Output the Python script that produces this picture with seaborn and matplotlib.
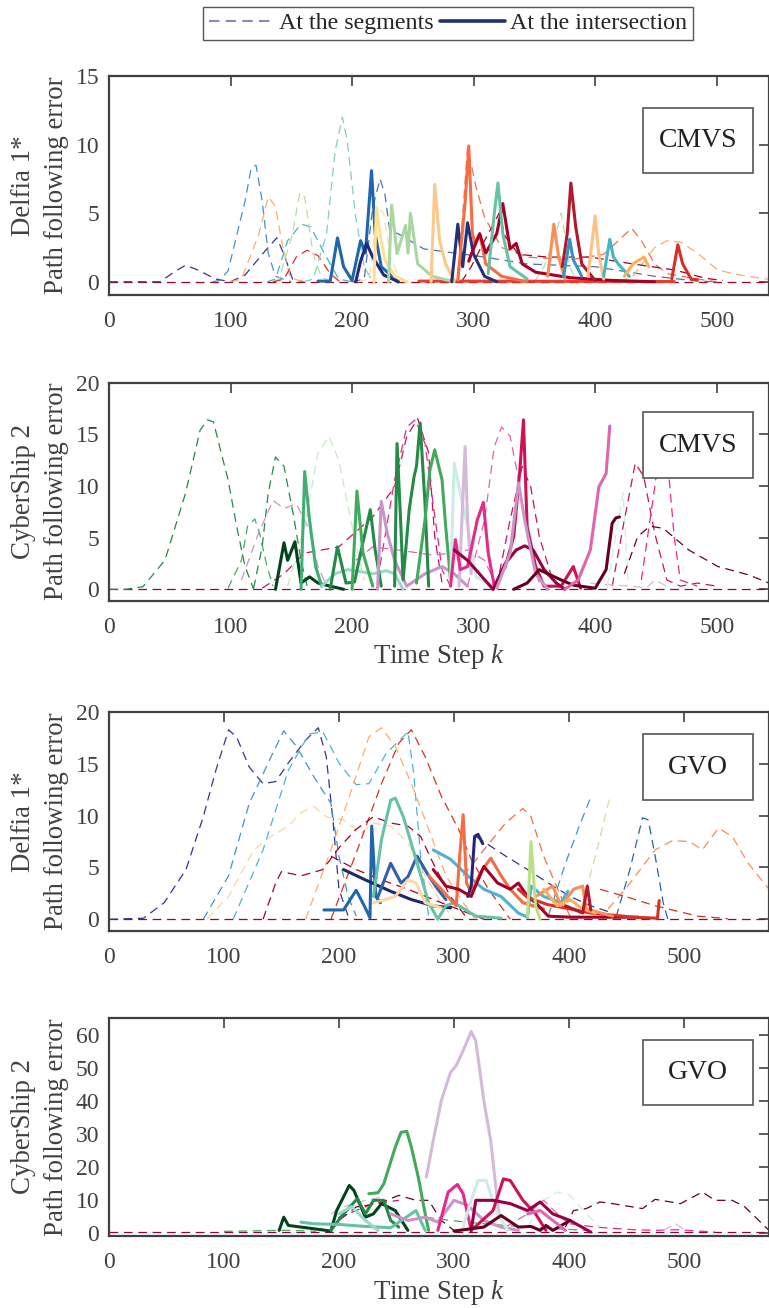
import numpy as np
import pandas as pd
import matplotlib.pyplot as plt
import seaborn as sns
from matplotlib.lines import Line2D
from matplotlib.patches import Rectangle

# ---------------- Delfia 1* / CMVS ----------------
delfia_cmvs_seg_k = [
    [0, 150, 300, 450, 543],
    [0, 42, 55, 63, 72, 88, 100],
    [100, 112, 128, 138, 144, 151, 160],
    [85, 91, 98, 112, 117, 121, 126, 131, 137, 150],
    [100, 109, 123, 131, 137, 142, 149, 160],
    [130, 137, 147, 158, 166, 177, 189, 200],
    [135, 140, 151, 157, 161, 168, 175, 185],
    [135, 144, 154, 163, 172, 182, 190],
    [160, 168, 179, 186, 192, 196, 203, 210, 217],
    [200, 210, 217, 223, 227, 231, 238, 259, 309, 344, 400, 449, 484, 500],
    [205, 214, 221, 226, 231, 238, 245],
    [280, 288, 295, 302, 309, 323, 344, 379, 407, 430, 438, 449, 459, 484, 500],
    [420, 431, 449, 459, 470, 484, 501, 519, 543],
    [290, 298, 309, 321, 326, 337, 361, 396, 431, 466, 491, 505],
    [350, 358, 368, 372, 375, 379, 385],
]
delfia_cmvs_seg_err = [
    [0, 0, 0, 0, 0],
    [0, 0, 0.8, 1.2, 0.9, 0.2, 0],
    [0, 0.5, 2.2, 3.2, 2.0, 0.2, 0],
    [0, 0.1, 0.8, 5.9, 8.3, 8.5, 5.9, 2.1, 0.4, 0],
    [0, 0.2, 3.4, 6.2, 5.5, 3.0, 0.3, 0],
    [0, 0.2, 3.0, 4.2, 4.0, 2.1, 0.2, 0],
    [0, 0.2, 3.5, 6.5, 6.2, 2.0, 0.3, 0],
    [0, 0.2, 1.8, 2.3, 1.9, 0.6, 0],
    [0, 0.2, 3.5, 9.5, 12.0, 10.3, 4.7, 1.1, 0],
    [0, 0.2, 5.4, 7.5, 6.4, 3.7, 3.5, 2.4, 1.8, 1.3, 1.1, 0.4, 0.05, 0],
    [0, 0.2, 5.4, 5.0, 2.0, 0.4, 0],
    [0, 1.1, 9.8, 6.9, 4.7, 2.5, 1.8, 1.6, 2.0, 3.9, 3.0, 1.3, 0.6, 0.2, 0],
    [0, 0.4, 2.5, 3.0, 2.9, 2.1, 0.85, 0.5, 0.17],
    [0, 1.1, 3.0, 5.0, 3.3, 2.0, 1.8, 1.8, 1.3, 0.85, 0.25, 0.1],
    [0, 1.1, 3.5, 5.0, 3.5, 1.1, 0],
]
delfia_cmvs_seg_col = ['#a50026', '#313695', '#313695', '#4393c3', '#fdae61', '#41b6c4',
                       '#b5dfa0', '#d73027', '#80cdc1', '#4575b4', '#fee090', '#f46d43',
                       '#fdae61', '#a50026', '#b5dfa0']

delfia_cmvs_int_k = [
    [255, 300, 400, 465],
    [172, 182, 188, 193, 200, 207, 211, 216, 219, 224, 238],
    [203, 207, 212, 217, 226, 238],
    [218, 220, 223, 227, 235, 245],
    [230, 232.5, 237, 244, 246, 248, 254, 266, 284],
    [265, 268, 272, 277, 284],
    [282, 287, 291, 295, 300, 309, 319],
    [287, 293, 296, 299, 301, 305, 310, 323, 344],
    [296, 298, 305, 310, 319, 324, 330, 335, 340, 351, 379, 414, 449],
    [312, 317, 320, 324, 330, 344],
    [361, 366, 370, 375],
    [373, 377, 380, 384, 389, 400],
    [374, 379, 382, 389],
    [394, 400, 403, 407],
    [407, 412, 415, 419, 428],
    [424, 431, 440, 444],
    [463, 468, 472, 479, 484],
]
delfia_cmvs_int_err = [
    [0.05, 0.05, 0.03, 0.02],
    [0.05, 0.05, 3.2, 1.1, 0.1, 3.0, 2.1, 8.1, 3.5, 1.1, 0],
    [0, 1.5, 2.8, 1.8, 0.5, 0],
    [0, 5.4, 3.5, 1.6, 0.4, 0],
    [0, 5.6, 2.05, 4.1, 2.1, 5.0, 1.3, 0.4, 0],
    [0, 7.1, 3.0, 1.3, 0.1],
    [0, 4.2, 1.1, 4.3, 2.0, 0.4, 0],
    [0.1, 5.8, 9.9, 3.5, 2.8, 3.5, 1.3, 0.4, 0],
    [1.5, 2.0, 3.5, 2.1, 3.5, 5.7, 2.4, 2.8, 1.3, 0.7, 0.3, 0.1, 0],
    [0.6, 5.0, 7.2, 3.5, 1.1, 0.2],
    [0.4, 4.2, 1.8, 0.2],
    [1.1, 3.5, 7.2, 4.0, 1.3, 0.1],
    [0.4, 3.1, 1.6, 0.4],
    [0.4, 4.8, 2.0, 0.2],
    [0.4, 3.1, 1.8, 1.3, 0.4],
    [0.4, 1.3, 1.8, 1.1],
    [0.2, 2.7, 1.3, 0.2, 0.15],
]
delfia_cmvs_int_col = ['#ef3b2c', '#2166ac', '#1f2a80', '#fee090', '#a8d8a0', '#fdc98a',
                       '#23307a', '#f46d43', '#a50026', '#66c2a5', '#fc8d59', '#b2182b',
                       '#3a8fc5', '#fdc086', '#41b6c4', '#fdae61', '#d73027']

# ---------------- CyberShip 2 / CMVS ----------------
cyber_cmvs_seg_k = [
    [0, 150, 300, 450, 543],
    [0, 14, 28, 46, 63, 75, 81, 86, 91, 98, 105, 112, 119],
    [98, 109, 114, 120, 124, 130, 135],
    [119, 126, 131, 137, 144, 152, 158, 163],
    [109, 123, 135, 144, 154, 165, 172, 179],
    [147, 161, 172, 181, 189, 200, 210],
    [126, 144, 161, 189, 217, 235, 245, 254, 263, 268, 274],
    [221, 235, 245, 252, 260, 267, 274, 281],
    [295, 309, 317, 323, 330, 337, 344, 354],
    [319, 330, 340, 347, 354, 365, 372],
    [414, 424, 433, 440, 449, 459, 470, 484, 500],
    [438, 449, 456, 459, 465, 470, 484],
    [424, 435, 445, 456, 477, 501, 526, 543],
    [396, 414, 431, 442, 449, 459],
    [410, 419, 423, 427],
    [203, 217, 238, 267, 281, 295, 309, 319],
]
cyber_cmvs_seg_err = [
    [0, 0, 0, 0, 0],
    [0, 0, 0.25, 2.8, 9.3, 15.4, 16.4, 16.2, 13.8, 10.6, 6.1, 2.2, 0],
    [0.1, 2.8, 6.1, 6.8, 5.4, 2.2, 0.3],
    [0.1, 4.1, 9.3, 12.8, 11.9, 7.0, 2.8, 0.3],
    [0.9, 5.4, 8.6, 7.8, 8.3, 5.7, 2.2, 0.3],
    [0.3, 6.1, 13.2, 14.8, 12.5, 6.1, 0.9],
    [0.1, 1.5, 3.5, 4.1, 7.0, 9.9, 14.8, 16.5, 13.2, 5.1, 0.6],
    [0.9, 10.6, 15.7, 16.4, 14.1, 8.0, 1.9, 0.3],
    [0.3, 6.7, 13.8, 15.7, 14.8, 10.6, 5.1, 0.6],
    [0.3, 6.7, 11.9, 9.9, 5.1, 0.9, 0.3],
    [0.3, 6.7, 12.2, 10.9, 5.4, 0.9, 0.3, 0.6, 0.3],
    [0.9, 9.9, 16.1, 13.2, 5.1, 0.9, 0.3],
    [1.5, 5.1, 6.1, 5.9, 3.8, 2.2, 1.4, 0.6],
    [0.6, 0.4, 0.3, 0.1, 0.9, 0.3],
    [0.3, 6.7, 9.3, 0.9],
    [2.8, 4.1, 3.8, 3.3, 3.5, 3.8, 2.8, 0.3],
]
cyber_cmvs_seg_col = ['#980043', '#238b45', '#41ab5d', '#238b45', '#c994c7', '#c7e9c0',
                      '#ce1256', '#e7298a', '#df65b0', '#ce1256', '#ce1256', '#e7298a',
                      '#67001f', '#d4b9da', '#ccece6', '#df65b0']

cyber_cmvs_int_k = [
    [137, 144, 147, 153, 158, 165, 172, 182, 193],
    [158, 161, 165, 170, 175],
    [175, 186, 196, 207, 217, 228, 235, 242],
    [182, 188, 195, 202, 207, 215, 219, 224],
    [200, 204, 209, 217],
    [221, 224, 229, 235, 245, 260, 274, 284, 295],
    [235, 237, 240, 242, 247, 251, 253, 256, 260, 263],
    [253, 260, 264, 268, 274, 277, 281],
    [281, 284, 289, 295, 302, 316],
    [288, 293, 295, 298],
    [281, 285, 289, 295, 303, 308, 312, 317],
    [316, 326, 333, 338, 341, 344, 351, 358, 372, 382, 388],
    [284, 295, 307, 316, 326, 335, 342, 349, 358, 368, 375],
    [319, 330, 337, 342, 351, 361],
    [333, 344, 354, 361, 372, 382, 400, 409, 414, 417, 420],
    [375, 386, 396, 403, 409, 412],
]
cyber_cmvs_int_err = [
    [0, 4.5, 2.8, 4.6, 0.6, 1.2, 0.6, 0.3, 0],
    [0, 11.4, 6.7, 2.2, 0.3],
    [0.3, 1.5, 1.9, 1.7, 1.5, 1.8, 1.5, 0],
    [0, 4.1, 0.6, 0.7, 3.5, 7.7, 3.8, 0.3],
    [0, 9.5, 3.5, 0.3],
    [0, 8.5, 5.4, 2.8, 0.3, 1.5, 2.2, 1.5, 0.3],
    [0.3, 14.1, 6.5, 0.9, 7.7, 10.9, 11.9, 16.1, 8.3, 0.3],
    [0.6, 6.7, 11.5, 13.5, 10.6, 6.1, 0.9],
    [0.6, 12.2, 9.3, 6.1, 1.2, 0.3],
    [0.3, 13.8, 6.7, 1.5],
    [0.3, 4.8, 1.9, 2.2, 6.7, 8.4, 3.5, 0.3],
    [0, 2.2, 5.1, 11.5, 16.4, 6.1, 2.2, 0.3, 0.3, 2.2, 0.1],
    [3.8, 2.8, 1.2, 0, 2.5, 3.8, 4.2, 3.8, 1.9, 0.6, 0],
    [0.1, 3.5, 10.3, 6.7, 1.5, 0],
    [0, 0.6, 1.9, 1.5, 0.9, 0.4, 0.1, 1.9, 6.4, 6.9, 7.0],
    [0, 0.9, 3.8, 9.9, 11.2, 15.8],
]
cyber_cmvs_int_col = ['#00441b', '#41ae76', '#99d8c9', '#238b45', '#41ab5d', '#c994c7',
                      '#238b45', '#41ab5d', '#ccece6', '#d4b9da', '#e7298a', '#ce1256',
                      '#980043', '#c994c7', '#67001f', '#df65b0']

# ---------------- Delfia 1* / GVO ----------------
delfia_gvo_seg_k = [
    [0, 200, 400, 574],
    [0, 30, 48, 67, 82, 93, 104, 111, 122, 134, 145, 156, 171, 182, 189, 195, 200, 208],
    [82, 104, 122, 141, 152, 163, 178, 193, 200, 208, 215],
    [108, 134, 156, 174, 186, 200, 215, 226, 241, 260, 265, 271, 278],
    [85, 104, 126, 141, 156, 167, 178, 189, 204, 219, 230, 245, 260, 275, 289, 300],
    [171, 193, 211, 226, 237, 249, 263, 278, 293, 308, 319],
    [193, 215, 237, 252, 263, 275, 289, 304, 315, 330, 349],
    [134, 145, 150, 167, 186, 200, 215, 230, 245, 260, 271, 282, 297, 312],
    [193, 215, 237, 260, 289, 326],
    [308, 326, 345, 360, 367, 378, 393, 401],
    [382, 397, 408, 419],
    [408, 423, 436],
    [441, 453, 464, 469, 475, 482, 486],
    [434, 449, 475, 490, 505, 516, 530, 542, 556, 574],
    [427, 449, 475, 512, 538],
    [319, 345, 364, 382, 401, 419, 438],
]
delfia_gvo_seg_err = [
    [0, 0, 0, 0],
    [0, 0.1, 1.6, 4.8, 9.9, 14.4, 18.3, 17.6, 14.7, 13.1, 13.3, 15.1, 17.3, 18.5, 15.7, 9.3, 2.9, 0.3],
    [0, 4.2, 11.2, 15.7, 18.2, 16.7, 13.8, 11.2, 6.1, 2.2, 0.3],
    [0, 6.7, 14.4, 17.9, 18.1, 15.1, 13.0, 13.1, 16.0, 18.1, 14.1, 6.1, 0.3],
    [0, 2.2, 6.7, 8.0, 9.0, 10.3, 10.9, 9.9, 9.6, 8.3, 9.3, 9.0, 7.4, 4.2, 1.6, 0],
    [0, 6.7, 12.5, 17.6, 18.5, 16.7, 13.1, 8.7, 4.2, 1.6, 0],
    [0, 6.4, 13.1, 17.0, 18.3, 15.7, 11.9, 8.7, 5.8, 2.9, 0],
    [0, 3.5, 4.6, 4.2, 4.8, 6.9, 8.7, 9.9, 9.3, 9.0, 8.0, 5.4, 2.2, 0],
    [6.1, 4.8, 3.8, 2.9, 1.6, 0],
    [4.2, 6.7, 9.3, 10.7, 9.9, 6.1, 2.2, 0.3],
    [0.3, 5.4, 8.7, 11.8],
    [0, 6.1, 12.0],
    [0.2, 4.8, 9.8, 9.6, 6.1, 1.6, 0],
    [1.0, 2.9, 6.7, 7.6, 7.5, 6.7, 8.8, 8.0, 5.4, 2.9],
    [2.9, 2.2, 1.3, 0.3, 0.06],
    [8.0, 6.1, 4.8, 3.5, 2.2, 1.3, 0.6],
]
delfia_gvo_seg_col = ['#a50026', '#313695', '#4393c3', '#4eb3d3', '#fdd49e', '#fdae61',
                      '#d73027', '#a50026', '#a50026', '#f46d43', '#4393c3', '#c2e699',
                      '#2166ac', '#fc8d59', '#d73027', '#313695']

delfia_gvo_int_k = [
    [187, 204, 215, 222, 227, 228.5, 232, 236],
    [204, 223, 245, 263, 282, 297],
    [234, 245, 254, 260, 268, 278, 286, 293],
    [230, 237, 245, 249, 256, 267, 278, 286, 293, 300, 319, 341],
    [230, 237, 249, 260, 267, 275, 289],
    [282, 297, 312, 326, 341, 356, 364, 367, 378, 393, 399],
    [278, 289, 302, 305, 308, 311, 315, 323, 332, 341, 349, 360, 378],
    [312, 315, 318, 321, 325],
    [282, 293, 304, 315, 326, 338, 349, 356, 364, 371, 382, 401, 460],
    [356, 364, 382, 401, 419, 438, 456, 477, 478.5],
    [371, 386, 393, 404, 412, 415, 438],
    [364, 367, 371, 375],
    [378, 390, 401, 412, 423],
    [397, 412, 416, 419],
]
delfia_gvo_int_err = [
    [0.9, 0.9, 2.8, 1.3, 0.15, 9.0, 2.2, 1.6],
    [4.8, 3.8, 2.7, 1.9, 1.3, 1.1],
    [2.2, 5.4, 3.5, 4.1, 6.1, 4.2, 2.9, 1.9],
    [2.2, 7.7, 11.5, 11.7, 9.9, 5.8, 1.6, 0, 1.3, 1.6, 0.3, 0.1],
    [1.6, 1.8, 2.2, 3.8, 3.5, 1.6, 1.1],
    [6.7, 5.8, 4.2, 2.9, 2.2, 0.6, 0.2, 3.2, 2.2, 1.6, 2.7],
    [4.2, 2.9, 1.3, 6.1, 10.1, 3.5, 2.6, 4.5, 5.9, 4.2, 2.9, 1.6, 1.0],
    [2.2, 3.2, 8.0, 8.2, 7.3],
    [4.8, 3.2, 2.9, 2.2, 5.1, 3.5, 2.9, 3.5, 2.2, 1.6, 0.3, 0.2, 0.2],
    [2.9, 2.1, 1.4, 1.0, 0.6, 0.4, 0.2, 0.1, 1.8],
    [2.2, 3.2, 1.3, 2.9, 3.2, 1.0, 0.3],
    [0.3, 7.5, 1.3, 0],
    [2.9, 1.3, 1.9, 1.0, 0.6],
    [1.3, 0.6, 3.2, 0.9],
]
delfia_gvo_int_col = ['#2166ac', '#1d2a6b', '#3060b0', '#66c2a5', '#fdd8a5', '#4eb3d3',
                      '#f46d43', '#23287a', '#a50026', '#d73027', '#fc8d59', '#b8e186',
                      '#fdae61', '#b2182b']

# ---------------- CyberShip 2 / GVO ----------------
cyber_gvo_seg_k = [
    [0, 200, 400, 574],
    [193, 200, 215, 234, 252, 267, 278, 289, 300],
    [397, 404, 415, 427, 438, 464, 475, 497, 516, 527, 542, 553, 574],
    [401, 423, 456, 475, 493, 527],
    [482, 493, 501],
    [364, 378, 390, 401, 415, 427],
    [100, 148, 160, 180],
    [275, 297, 326, 364, 415],
    [193, 200, 215, 230, 252],
    [193, 204, 223, 237],
    [345, 364, 378, 393, 404],
]
cyber_gvo_seg_err = [
    [0.3, 0.3, 0.3, 0.3],
    [0.8, 3.8, 7.9, 8.9, 11.4, 9.9, 9.9, 3.8, 0.8],
    [1.8, 6.8, 7.4, 9.4, 8.9, 7.4, 10.2, 8.9, 12.4, 9.9, 9.9, 7.9, 0.8],
    [2.8, 1.8, 1.0, 0.8, 1.0, 0.3],
    [0.8, 2.8, 0.8],
    [1.8, 9.9, 12.4, 11.4, 5.8, 1.8],
    [0.5, 0.8, 0.8, 0.5],
    [4.8, 3.8, 2.8, 1.8, 0.8],
    [0.8, 4.8, 6.8, 8.9, 9.9],
    [5.8, 7.9, 9.9, 10.9],
    [1.8, 5.8, 9.9, 4.8, 1.8],
]
cyber_gvo_seg_col = ['#980043', '#67001f', '#67001f', '#e7298a', '#d4b9da', '#ccece6',
                     '#41ab5d', '#41ab5d', '#ce1256', '#d4b9da', '#df65b0']

cyber_gvo_int_k = [
    [148, 152, 156, 178, 193, 198, 209, 213, 223, 230, 237, 249, 260],
    [193, 204, 216, 223, 230, 239, 245, 252],
    [226, 234, 239, 249, 254, 259, 263, 269, 275, 278],
    [167, 178, 200, 223, 245, 267, 275],
    [200, 211, 223, 234],
    [276, 282, 289, 297, 302, 308, 315, 319, 326, 332, 339],
    [245, 260, 275, 286, 300, 312, 326, 341, 356],
    [286, 295, 303, 308, 315],
    [308, 315, 321, 328, 338, 347],
    [315, 334, 343, 349, 360, 371, 380],
    [315, 319, 334, 349, 364, 375, 386, 401, 419],
    [300, 326, 341, 356, 367, 375, 380, 386, 397, 401],
    [364, 375, 386, 397],
]
cyber_gvo_int_err = [
    [0.8, 4.8, 2.3, 1.3, 0.6, 6.8, 14.4, 12.9, 4.8, 5.8, 8.9, 6.8, 0.8],
    [0.8, 5.8, 10.4, 5.8, 9.9, 9.9, 3.8, 1.8],
    [11.9, 12.2, 14.9, 26.0, 30.5, 30.8, 26.0, 16.9, 5.8, 0.8],
    [3.3, 2.8, 2.6, 2.0, 1.6, 6.8, 0.8],
    [5.8, 8.0, 3.8, 0.8],
    [16.9, 28.0, 40.1, 48.6, 50.7, 55.2, 61.0, 58.2, 40.1, 28.0, 5.8],
    [5.8, 3.8, 4.8, 3.3, 9.9, 8.4, 3.8, 1.8, 0.8],
    [0.8, 12.4, 14.7, 11.9, 0.8],
    [1.8, 9.9, 15.9, 15.9, 5.8, 0.8],
    [0.8, 6.8, 16.4, 15.9, 9.9, 5.8, 0.8],
    [0.8, 9.9, 9.9, 8.9, 6.8, 9.4, 5.8, 3.8, 0.3],
    [0.6, 1.8, 5.3, 1.8, 2.0, 0.8, 2.3, 0.8, 3.0, 3.8],
    [5.8, 6.8, 3.8, 0.8],
]
cyber_gvo_int_col = ['#00441b', '#238b45', '#41ab5d', '#66c2a4', '#99d8c9', '#d4b9da',
                     '#c994c7', '#e7298a', '#ccece6', '#ce1256', '#980043', '#67001f',
                     '#df65b0']

# panel setup
ylabels = ['Delfia 1*\nPath following error', 'CyberShip 2\nPath following error',
           'Delfia 1*\nPath following error', 'CyberShip 2\nPath following error']
methods = ['CMVS', 'CMVS', 'GVO', 'GVO']
xmax = [543, 543, 574, 574]
yrange = [(-0.94, 15), (-1.1, 20), (-1.1, 20), (-0.8, 65.1)]
yticks = [[0, 5, 10, 15], [0, 5, 10, 15, 20], [0, 5, 10, 15, 20], [0, 10, 20, 30, 40, 50, 60]]
panels = [
    (delfia_cmvs_seg_k, delfia_cmvs_seg_err, delfia_cmvs_seg_col,
     delfia_cmvs_int_k, delfia_cmvs_int_err, delfia_cmvs_int_col),
    (cyber_cmvs_seg_k, cyber_cmvs_seg_err, cyber_cmvs_seg_col,
     cyber_cmvs_int_k, cyber_cmvs_int_err, cyber_cmvs_int_col),
    (delfia_gvo_seg_k, delfia_gvo_seg_err, delfia_gvo_seg_col,
     delfia_gvo_int_k, delfia_gvo_int_err, delfia_gvo_int_col),
    (cyber_gvo_seg_k, cyber_gvo_seg_err, cyber_gvo_seg_col,
     cyber_gvo_int_k, cyber_gvo_int_err, cyber_gvo_int_col),
]

sns.set_theme(style='white')
plt.rcParams['font.family'] = ['Liberation Serif', 'DejaVu Serif']
plt.rcParams['mathtext.fontset'] = 'custom'
plt.rcParams['mathtext.rm'] = 'Liberation Serif'
plt.rcParams['mathtext.it'] = 'Liberation Serif:italic'

axis_grey = '#404040'
fig = plt.figure(figsize=(7.69, 13.08), dpi=100)
ax_boxes = [[0.1417, 0.7747, 0.8583, 0.1672],
            [0.1417, 0.5408, 0.8583, 0.1667],
            [0.1417, 0.2885, 0.8583, 0.1670],
            [0.1417, 0.0553, 0.8583, 0.1664]]
tag_boxes = [(0.8095, 0.555), (0.8095, 0.563), (0.8095, 0.599), (0.8095, 0.60)]


def draw_runs(ax, ks, errs, cols, solid):
    for k, e, c in zip(ks, errs, cols):
        df = pd.DataFrame({'k': k, 'err': e})
        if solid:
            sns.lineplot(data=df, x='k', y='err', ax=ax, color=c, lw=2.2,
                         estimator=None, sort=False)
        else:
            sns.lineplot(data=df, x='k', y='err', ax=ax, color=c, lw=0.9,
                         linestyle=(0, (7, 4.5)), estimator=None, sort=False)


for i, (sk, se, sc, ik, ie, ic) in enumerate(panels):
    ax = fig.add_axes(ax_boxes[i])
    draw_runs(ax, sk, se, sc, solid=False)
    draw_runs(ax, ik, ie, ic, solid=True)
    ax.set_xlim(0, xmax[i])
    ax.set_ylim(*yrange[i])
    ax.set_xticks([0, 100, 200, 300, 400, 500])
    ax.set_yticks(yticks[i])
    ax.tick_params(direction='in', top=True, right=True, length=7, width=1.2,
                   labelsize=17, colors=axis_grey)
    ax.tick_params(axis='x', pad=12)
    ax.tick_params(axis='y', pad=7)
    for s in ax.spines.values():
        s.set_color(axis_grey)
        s.set_linewidth(1.6)
    ax.set_ylabel(ylabels[i], fontsize=19.4, color=axis_grey, linespacing=1.38)
    ax.yaxis.set_label_coords(-0.061, 0.5)
    if i in (1, 3):
        ax.set_xlabel('Time Step $k$', fontsize=19.4, color=axis_grey, labelpad=3)
    else:
        ax.set_xlabel('')
    x0, y0 = tag_boxes[i]
    ax.add_patch(Rectangle((x0, y0), 0.1658, 0.30, transform=ax.transAxes,
                           facecolor='white', edgecolor='#555555', lw=1.2, zorder=10))
    ax.text(x0 + 0.0829, y0 + 0.15, methods[i], transform=ax.transAxes, ha='center',
            va='center', fontsize=20, color='#222222', zorder=11)

handles = [Line2D([], [], color='#8a8ab5', lw=1.5, linestyle=(0, (5, 3))),
           Line2D([], [], color='#25306e', lw=2.6)]
fig.legend(handles, ['At the segments', 'At the intersection'], loc='center',
           bbox_to_anchor=(448 / 769, 1 - 23.5 / 1308), ncol=2, fontsize=17.3,
           frameon=True, fancybox=False, edgecolor='#555555', framealpha=1,
           handlelength=2.7, handletextpad=0.2, columnspacing=0.3, borderpad=0.25)

fig.savefig('out.png', dpi=100)
